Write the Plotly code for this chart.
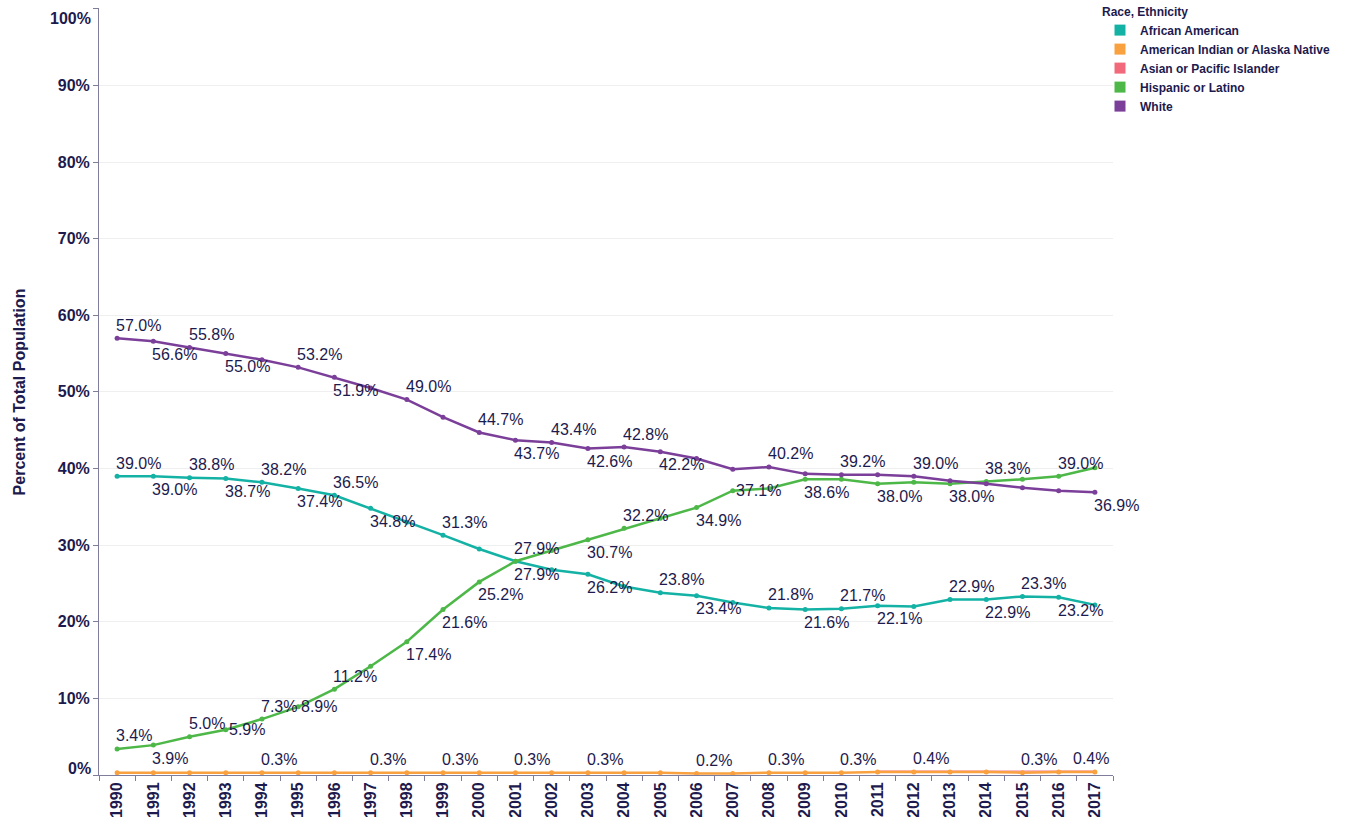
import plotly.graph_objects as go

years = [str(y) for y in range(1990, 2018)]

african_american = [39.0, 39.0, 38.8, 38.7, 38.2, 37.4, 36.5, 34.8, 33.0, 31.3, 29.5, 27.9, 26.8, 26.2,
                    24.6, 23.8, 23.4, 22.5, 21.8, 21.6, 21.7, 22.1, 22.0, 22.9, 22.9, 23.3, 23.2, 22.2]
american_indian = [0.3, 0.3, 0.3, 0.3, 0.3, 0.3, 0.3, 0.3, 0.3, 0.3, 0.3, 0.3, 0.3, 0.3,
                   0.3, 0.3, 0.2, 0.2, 0.3, 0.3, 0.3, 0.4, 0.4, 0.4, 0.4, 0.3, 0.4, 0.4]
asian_pacific = [None] * 21 + [0.5, 0.5, 0.5, 0.5, 0.5, 0.5, 0.5]
hispanic = [3.4, 3.9, 5.0, 5.9, 7.3, 8.9, 11.2, 14.2, 17.4, 21.6, 25.2, 27.9, 29.3, 30.7,
            32.2, 33.5, 34.9, 37.1, 37.4, 38.6, 38.6, 38.0, 38.2, 38.0, 38.3, 38.6, 39.0, 40.1]
white = [57.0, 56.6, 55.8, 55.0, 54.2, 53.2, 51.9, 50.5, 49.0, 46.7, 44.7, 43.7, 43.4, 42.6,
         42.8, 42.2, 41.3, 39.9, 40.2, 39.3, 39.2, 39.2, 39.0, 38.4, 38.0, 37.5, 37.1, 36.9]

y_ticks = [0, 10, 20, 30, 40, 50, 60, 70, 80, 90, 100]

series_names = ["African American", "American Indian or Alaska Native", "Asian or Pacific Islander",
                "Hispanic or Latino", "White"]

# label placement per point: a = above, b = below, r = right, R = right-aligned above, '' = none
lab_aa = ["a", "b", "a", "b", "a", "b", "a", "b", "", "a", "", "a", "", "b",
          "", "a", "b", "", "a", "b", "a", "b", "", "a", "b", "a", "b", ""]
lab_ai = ["", "", "", "", "a", "", "", "a", "", "a", "", "a", "", "a",
          "", "", "a", "", "a", "", "a", "", "a", "", "", "a", "", "R"]
lab_as = [""] * 28
lab_hi = ["a", "b", "a", "r", "a", "r", "a", "", "b", "b", "b", "b", "", "b",
          "a", "", "b", "r", "", "b", "", "b", "", "b", "a", "", "a", ""]
lab_wh = ["a", "b", "a", "b", "", "a", "b", "", "a", "", "a", "b", "a", "b",
          "a", "b", "", "", "a", "", "a", "", "a", "", "", "", "", "b"]

colors = {
    "African American": "#14b2a5",
    "American Indian or Alaska Native": "#f9a03f",
    "Asian or Pacific Islander": "#f2697b",
    "Hispanic or Latino": "#4db848",
    "White": "#7b3f9a",
}
TEXT = "#1d1a4e"
AXIS = "#7f7d9c"
FONT = "Liberation Sans, Arial, sans-serif"

data = {
    "African American": (african_american, lab_aa),
    "American Indian or Alaska Native": (american_indian, lab_ai),
    "Asian or Pacific Islander": (asian_pacific, lab_as),
    "Hispanic or Latino": (hispanic, lab_hi),
    "White": (white, lab_wh),
}

fig = go.Figure()

draw_order = ["Asian or Pacific Islander", "American Indian or Alaska Native", "African American",
              "Hispanic or Latino", "White"]
for name in draw_order:
    vals, _ = data[name]
    is_asian = name == "Asian or Pacific Islander"
    fig.add_trace(go.Scatter(
        x=years, y=vals, mode="lines" if is_asian else "lines+markers", name=name, showlegend=False,
        line=dict(color=colors[name], width=2 if is_asian else 2.5),
        opacity=0.6 if is_asian else 1,
        marker=dict(color=colors[name], size=5),
        hovertemplate="%{x}: %{y:.1f}%<extra>" + name + "</extra>",
    ))

# legend entries with square swatches
for name in series_names:
    fig.add_trace(go.Scatter(
        x=[None], y=[None], mode="markers", name=name,
        marker=dict(color=colors[name], size=11, symbol="square"),
    ))

annotations = []
for name in series_names:
    vals, labs = data[name]
    for i, (v, p) in enumerate(zip(vals, labs)):
        if not p or v is None:
            continue
        a = dict(x=i, y=v, xref="x", yref="y", text=f"{v:.1f}%", showarrow=False,
                 font=dict(family=FONT, size=16, color=TEXT), yanchor="middle")
        if p == "a":
            a.update(xanchor="left", xshift=-3, yshift=13)
        elif p == "b":
            a.update(xanchor="left", xshift=-3, yshift=-13)
        elif p == "r":
            a.update(xanchor="left", xshift=1, yshift=0)
        elif p == "R":
            a.update(xanchor="right", xshift=16, yshift=13)
        annotations.append(a)

# end tick labels (0% and 100%) are nudged inward, as in the original
for t, shift in ((y_ticks[0], 7), (y_ticks[-1], -10)):
    annotations.append(dict(
        x=0, y=t, xref="paper", yref="y", text=f"<b>{t}%</b>", showarrow=False,
        xanchor="right", yanchor="middle", xshift=-6, yshift=shift,
        font=dict(family=FONT, size=16, color=TEXT),
    ))

annotations.append(dict(
    x=-0.078, y=0.5, xref="paper", yref="paper", text="<b>Percent of Total Population</b>",
    textangle=-90, showarrow=False, xanchor="center", yanchor="middle",
    font=dict(family=FONT, size=16, color=TEXT),
))

tick_text = ["" if t in (y_ticks[0], y_ticks[-1]) else f"{t}%" for t in y_ticks]

fig.update_layout(
    width=1351, height=817,
    margin=dict(l=99, r=238, t=8, b=42, autoexpand=False),
    paper_bgcolor="white", plot_bgcolor="white",
    font=dict(family=FONT, color=TEXT),
    annotations=annotations,
    legend=dict(
        title=dict(text="<b>Race, Ethnicity</b>", font=dict(family=FONT, size=12, color=TEXT)),
        font=dict(family=FONT, size=12, color=TEXT, weight="bold"),
        xref="container", yref="container", x=1100 / 1351, y=1 + 1 / 817,
        xanchor="left", yanchor="top", itemwidth=30, tracegroupgap=0,
        bgcolor="rgba(0,0,0,0)",
    ),
    xaxis=dict(
        type="category", tickson="boundaries", ticks="outside", ticklen=5, tickcolor=AXIS,
        tickangle=-90, tickfont=dict(family=FONT, size=16, color=TEXT, weight="bold"),
        showline=True, linecolor=AXIS, linewidth=1, showgrid=False, automargin=False,
        range=[-0.5, 27.5],
    ),
    yaxis=dict(
        range=[0, 100.1], tickmode="array", tickvals=y_ticks, ticktext=tick_text, ticks="outside",
        ticklen=5, tickcolor=AXIS,
        tickfont=dict(family=FONT, size=16, color=TEXT, weight="bold"),
        showline=True, linecolor=AXIS, linewidth=1, gridcolor="#efefef", zeroline=False,
        automargin=False,
    ),
)

fig.write_html("out.html", config={"displayModeBar": False},
               post_script="document.body.style.margin='0';")
